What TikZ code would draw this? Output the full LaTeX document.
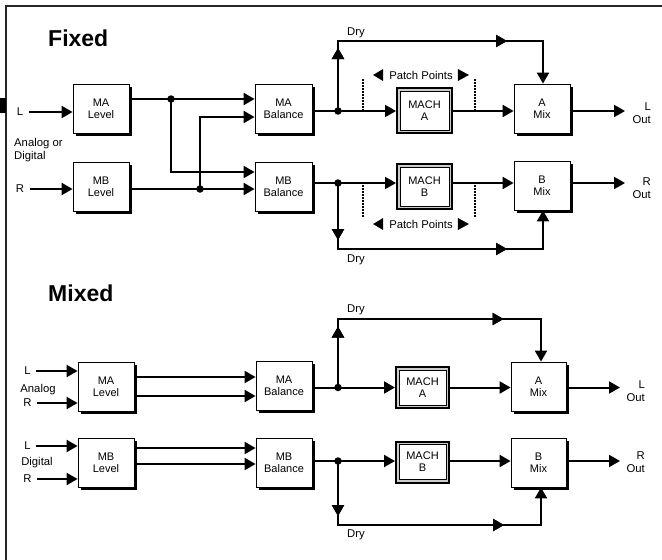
\documentclass[tikz,border=0pt]{standalone}
\usepackage{fontspec}
\setmainfont{Liberation Sans}
\usetikzlibrary{arrows.meta,shadows,calc,decorations.markings}
\begin{document}
\begin{tikzpicture}[x=1pt,y=-1pt,
  wire/.style={line width=2pt},
  arr/.style={wire,-{Triangle[length=11pt,width=12pt]}},
  box/.style={draw, line width=0.8pt, fill=white, minimum width=56pt, minimum height=49pt,
    inner sep=0pt, align=center, font=\fontsize{11}{12}\selectfont,
    drop shadow={shadow xshift=2.8pt,shadow yshift=-2.8pt,fill=black,opacity=1}},
  mach/.style={draw, line width=2pt, fill=gray!40, minimum width=55pt, minimum height=45pt,
    inner sep=0pt, align=center, font=\fontsize{11}{12}\selectfont,
    path picture={\draw[line width=0.8pt, fill=white]
      ($(path picture bounding box.south west)+(3pt,3pt)$) rectangle
      ($(path picture bounding box.north east)+(-3pt,-3pt)$);}},
  dot/.style={circle, fill=black, inner sep=0pt, minimum size=7.5pt},
  lbl/.style={inner sep=0pt, font=\fontsize{11.3}{13}\selectfont},
  ttl/.style={inner sep=0pt, anchor=west, font=\fontsize{23}{26}\selectfont\bfseries},
  midarrow/.style={postaction={decorate}, decoration={markings,
    mark=at position #1 with {\arrow{Triangle[length=11pt,width=12pt]}}}},
  pdots/.style={line width=1.5pt, dash pattern=on 1.5pt off 1.5pt}
]
\useasboundingbox (0,0) rectangle (662,560);
% frame
\draw[line width=1.2pt, black!85] (6,560) -- (6,6) -- (662,6);
\fill (0,98) rectangle (6,113);

% ================= FIXED =================
\node[ttl] (tfix) at (48,38) {Fixed};
\node[box] (maL) at (101,108.5) {MA\\Level};
\node[box] (mbL) at (101,186.5) {MB\\Level};
\node[box, minimum width=57pt] (maB) at (283.5,108.5) {MA\\Balance};
\node[box, minimum width=57pt] (mbB) at (283.5,186.5) {MB\\Balance};
\node[mach] (machA) at (424.5,110.5) {MACH\\A};
\node[mach] (machB) at (424.5,186.5) {MACH\\B};
\node[box] (aMix) at (542,108.5) {A\\Mix};
\node[box] (bMix) at (542,185.5) {B\\Mix};

\node[lbl] (inL) at (20,112) {L};
\node[lbl] (inR) at (20,189) {R};
\node[lbl, anchor=west, align=left] (ad) at (14,150.5) {Analog or\\Digital};
\draw[arr, shorten <=5.5pt] (inL.east) -- (maL.west |- inL);
\draw[arr, shorten <=5.5pt] (inR.east) -- (mbL.west |- inR);

\node[dot] (j1) at (171,99) {};
\node[dot] (j2) at (200,189) {};
\draw[arr] (maL.east |- j1) -- (j1.center) -- (maB.west |- j1);
\draw[arr] (j1.center) |- (mbB.west |- 0,172);
\draw[arr] (mbL.east |- j2) -- (j2.center) -- (mbB.west |- j2);
\draw[arr] (j2.center) |- (maB.west |- 0,117);

\node[dot] (j3) at (338,111) {};
\node[dot] (j4) at (338,183) {};
\draw[arr] (maB.east |- j3) -- (j3.center) -- (machA.west |- j3);
\draw[arr] (machA.east |- j3) -- (aMix.west |- j3);
\draw[arr] (mbB.east |- j4) -- (j4.center) -- (machB.west |- j4);
\draw[arr] (machB.east |- j4) -- (bMix.west |- j4);

\coordinate (oL) at (625,111);
\coordinate (oR) at (625,183);
\draw[arr] (aMix.east |- j3) -- (oL);
\draw[arr] (bMix.east |- j4) -- (oR);
\node[lbl, align=right, anchor=east] (tL) at (651,113) {L\\Out};
\node[lbl, align=right, anchor=east] (tR) at (651,188) {R\\Out};

\coordinate (dA1) at (338,41); \coordinate (dA2) at (543,41);
\draw[arr, midarrow=63pt, midarrow=239pt] (j3.center) -- (dA1) -- (dA2) -- (dA2 |- aMix.north);
\coordinate (dB1) at (338,249); \coordinate (dB2) at (543,249);
\draw[arr, midarrow=57pt, midarrow=235pt] (j4.center) -- (dB1) -- (dB2) -- (dB2 |- bMix.south);
\node[lbl, anchor=west] (dry1) at (347,33) {Dry};
\node[lbl, anchor=west] (dry2) at (347,260) {Dry};

% patch points
\node[lbl] (pp1) at (421,75) {Patch Points};
\fill ($(pp1.west)+(-16pt,0)$) -- ($(pp1.west)+(-6pt,6pt)$) -- ($(pp1.west)+(-6pt,-6pt)$) -- cycle;
\fill ($(pp1.east)+(16pt,0)$) -- ($(pp1.east)+(5pt,6pt)$) -- ($(pp1.east)+(5pt,-6pt)$) -- cycle;
\draw[pdots] (363,79) -- (363,110);
\draw[pdots] (475,79) -- (475,110);
\node[lbl] (pp2) at (421,224) {Patch Points};
\fill ($(pp2.west)+(-16pt,0)$) -- ($(pp2.west)+(-6pt,6pt)$) -- ($(pp2.west)+(-6pt,-6pt)$) -- cycle;
\fill ($(pp2.east)+(16pt,0)$) -- ($(pp2.east)+(5pt,6pt)$) -- ($(pp2.east)+(5pt,-6pt)$) -- cycle;
\draw[pdots] (363,185) -- (363,217);
\draw[pdots] (475,185) -- (475,217);

% ================= MIXED =================
\node[ttl] (tmix) at (48,293) {Mixed};
\node[box] (maL2) at (106,386.5) {MA\\Level};
\node[box] (mbL2) at (106,462.5) {MB\\Level};
\node[box] (maB2) at (284,386) {MA\\Balance};
\node[box] (mbB2) at (284,462.5) {MB\\Balance};
\node[mach, minimum width=53pt, minimum height=41pt] (machA2) at (422.5,387.5) {MACH\\A};
\node[mach, minimum width=53pt, minimum height=41pt] (machB2) at (422.5,462) {MACH\\B};
\node[box, minimum width=55pt] (aMix2) at (538.5,386.5) {A\\Mix};
\node[box, minimum width=55pt] (bMix2) at (538.5,462.5) {B\\Mix};

\node[lbl] (inL2) at (27.5,371) {L};
\node[lbl] (an) at (38,390) {Analog};
\node[lbl] (inR2) at (27.5,403) {R};
\node[lbl] (inL3) at (27.5,446) {L};
\node[lbl] (dg) at (37,463) {Digital};
\node[lbl] (inR3) at (27.5,479) {R};
\draw[arr, shorten <=5.5pt] (inL2.east) -- (maL2.west |- inL2);
\draw[arr, shorten <=5.5pt] (inR2.east) -- (maL2.west |- inR2);
\draw[arr, shorten <=5.5pt] (inL3.east) -- (mbL2.west |- inL3);
\draw[arr, shorten <=5.5pt] (inR3.east) -- (mbL2.west |- inR3);

\draw[arr] (maL2.east |- 0,377) -- (maB2.west |- 0,377);
\draw[arr] (maL2.east |- 0,396) -- (maB2.west |- 0,396);
\draw[arr] (mbL2.east |- 0,448) -- (mbB2.west |- 0,448);
\draw[arr] (mbL2.east |- 0,464) -- (mbB2.west |- 0,464);

\node[dot] (j5) at (338,387.5) {};
\node[dot] (j6) at (338,461) {};
\draw[arr] (maB2.east |- j5) -- (j5.center) -- (machA2.west |- j5);
\draw[arr] (machA2.east |- j5) -- (aMix2.west |- j5);
\draw[arr] (mbB2.east |- j6) -- (j6.center) -- (machB2.west |- j6);
\draw[arr] (machB2.east |- j6) -- (bMix2.west |- j6);

\coordinate (oL2) at (620,387.5);
\coordinate (oR2) at (620,461);
\draw[arr] (aMix2.east |- j5) -- (oL2);
\draw[arr] (bMix2.east |- j6) -- (oR2);
\node[lbl, align=right, anchor=east] (tL2) at (645,391) {L\\Out};
\node[lbl, align=right, anchor=east] (tR2) at (645,462.5) {R\\Out};

\coordinate (dC1) at (338,319); \coordinate (dC2) at (541,319);
\draw[arr, midarrow=61pt, midarrow=234pt] (j5.center) -- (dC1) -- (dC2) -- (dC2 |- aMix2.north);
\coordinate (dD1) at (338,525); \coordinate (dD2) at (541,525);
\draw[arr, midarrow=55pt, midarrow=230pt] (j6.center) -- (dD1) -- (dD2) -- (dD2 |- bMix2.south);
\node[lbl, anchor=west] (dry3) at (347,310) {Dry};
\node[lbl, anchor=west] (dry4) at (347,535) {Dry};
\end{tikzpicture}
\end{document}
